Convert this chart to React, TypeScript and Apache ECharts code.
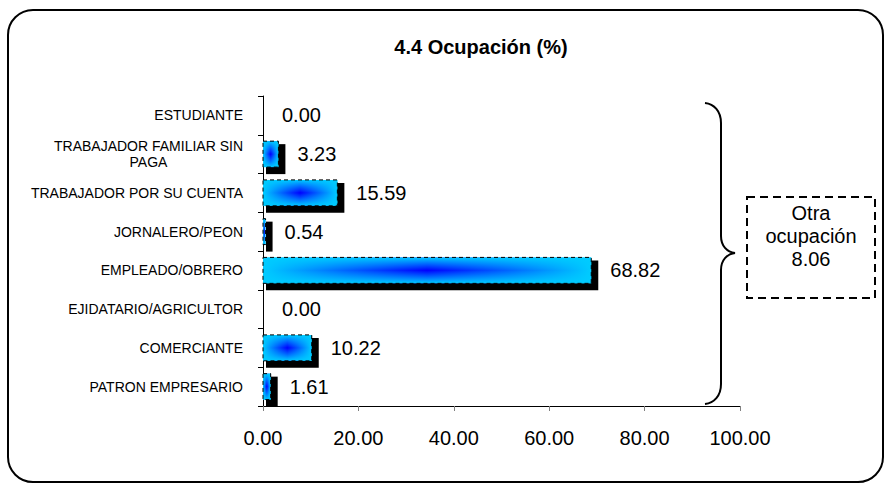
import { useEffect, useRef } from 'react';
import * as echarts from 'echarts';

// Occupation shares (%), listed top to bottom as shown on the axis
const categories = [
  'ESTUDIANTE',
  'TRABAJADOR FAMILIAR SIN\nPAGA',
  'TRABAJADOR POR SU CUENTA',
  'JORNALERO/PEON',
  'EMPLEADO/OBRERO',
  'EJIDATARIO/AGRICULTOR',
  'COMERCIANTE',
  'PATRON EMPRESARIO',
];
const values = [0.0, 3.23, 15.59, 0.54, 68.82, 0.0, 10.22, 1.61];

// Remaining share grouped by the brace
const otherLabel = 'Otra\nocupación';
const otherValue = 8.06;

const titleText = '4.4 Ocupación (%)';
const xMin = 0;
const xMax = 100;
const xStep = 20;

const FONT = 'Arial, "Liberation Sans", sans-serif';
const CYAN = '#00CCFF';
const BLUE = '#0000FF';

const BRACE_D =
  'M705 103 C714 104 721 111 721 123 L721 236 C721 246 727 252 735 253 ' +
  'C727 254 721 260 721 270 L721 384 C721 396 714 403 705 404';

let braceRegistered = false;
function registerBrace() {
  if (braceRegistered) return;
  echarts.graphic.registerShape('brace', echarts.graphic.extendPath(BRACE_D, {}));
  braceRegistered = true;
}

export default function App() {
  const ref = useRef<HTMLDivElement>(null);

  useEffect(() => {
    if (!ref.current) return;
    registerBrace();
    const chart = echarts.init(ref.current, null, { renderer: 'svg' });

    const renderBar = (_params: any, api: any) => {
      const v = api.value(0) as number;
      const idx = api.value(1) as number;
      const p0 = api.coord([0, idx]);
      const p1 = api.coord([v, idx]);
      const band = api.size([0, 1])[1];
      const h = band * 0.67;
      const x = p0[0];
      const y = p0[1] - h / 2;
      const w = p1[0] - p0[0];
      const children: any[] = [];
      if (w > 0) {
        // offset drop shadow
        children.push({
          type: 'rect',
          shape: { x: x + 3, y: y + 3, width: w + 4, height: h + 4 },
          style: { fill: '#000' },
        });
        // horizontal part of the centre-out gradient
        children.push({
          type: 'rect',
          shape: { x, y, width: w, height: h },
          style: {
            fill: new echarts.graphic.LinearGradient(0, 0, 1, 0, [
              { offset: 0, color: CYAN },
              { offset: 0.5, color: BLUE },
              { offset: 1, color: CYAN },
            ]),
          },
        });
        // vertical fade back to cyan at top and bottom
        children.push({
          type: 'rect',
          shape: { x, y, width: w, height: h },
          style: {
            fill: new echarts.graphic.LinearGradient(0, 0, 0, 1, [
              { offset: 0, color: 'rgba(0,204,255,1)' },
              { offset: 0.5, color: 'rgba(0,204,255,0)' },
              { offset: 1, color: 'rgba(0,204,255,1)' },
            ]),
          },
        });
        // dashed outline
        children.push({
          type: 'rect',
          shape: { x, y, width: w, height: h },
          style: { fill: 'none', stroke: '#000', lineWidth: 1, lineDash: [4, 3] },
        });
      }
      children.push({
        type: 'text',
        style: {
          text: v.toFixed(2),
          x: p1[0] + 19,
          y: p0[1],
          fill: '#000',
          font: `20px ${FONT}`,
          align: 'left',
          verticalAlign: 'middle',
        },
      });
      return { type: 'group', children };
    };

    chart.setOption({
      animation: false,
      backgroundColor: '#fff',
      grid: { left: 263, right: 145, top: 96, bottom: 81, containLabel: false },
      xAxis: {
        type: 'value',
        min: xMin,
        max: xMax,
        interval: xStep,
        axisLine: { show: true, lineStyle: { color: '#000', width: 1 } },
        axisTick: { show: true, length: 5, lineStyle: { color: '#808080' } },
        splitLine: { show: false },
        axisLabel: {
          margin: 22,
          color: '#000',
          fontSize: 20,
          fontFamily: FONT,
          formatter: (v: number) => v.toFixed(2),
        },
      },
      yAxis: {
        type: 'category',
        data: categories,
        inverse: true,
        axisLine: { show: true, lineStyle: { color: '#000', width: 1 } },
        axisTick: { show: true, length: 5, lineStyle: { color: '#000' } },
        axisLabel: {
          margin: 20,
          color: '#000',
          fontSize: 14,
          fontFamily: FONT,
          formatter: (val: string) =>
            val
              .split('\n')
              .map((l) => `{c|${l}}`)
              .join('\n'),
          rich: {
            c: {
              align: 'center',
              fontSize: 14,
              lineHeight: 16,
              fontFamily: FONT,
              color: '#000',
            },
          },
        },
      },
      series: [
        {
          type: 'custom',
          data: values.map((v, i) => [v, i]),
          encode: { x: 0, y: 1 },
          clip: false,
          renderItem: renderBar,
        },
      ],
      graphic: [
        {
          type: 'rect',
          silent: true,
          shape: { x: 8, y: 10, width: 875, height: 472, r: 25 },
          style: { fill: 'none', stroke: '#000', lineWidth: 2 },
        },
        {
          type: 'text',
          silent: true,
          style: {
            text: titleText,
            x: 481,
            y: 47,
            font: `bold 20px ${FONT}`,
            fill: '#000',
            align: 'center',
            verticalAlign: 'middle',
          },
        },
        {
          type: 'brace',
          silent: true,
          x: 0,
          y: 0,
          style: { fill: 'none', stroke: '#000', lineWidth: 2 },
        },
        {
          type: 'rect',
          silent: true,
          shape: { x: 747, y: 197, width: 128, height: 101 },
          style: { fill: 'none', stroke: '#000', lineWidth: 2, lineDash: [8, 5] },
        },
        {
          type: 'text',
          silent: true,
          style: {
            text: `${otherLabel}\n${otherValue.toFixed(2)}`,
            x: 811,
            y: 236,
            font: `20px ${FONT}`,
            lineHeight: 23,
            fill: '#000',
            align: 'center',
            verticalAlign: 'middle',
          },
        },
      ],
    });

    return () => {
      chart.dispose();
    };
  }, []);

  return (
    <div
      ref={ref}
      style={{ position: 'fixed', left: 0, top: 0, width: 885, height: 487 }}
    />
  );
}
